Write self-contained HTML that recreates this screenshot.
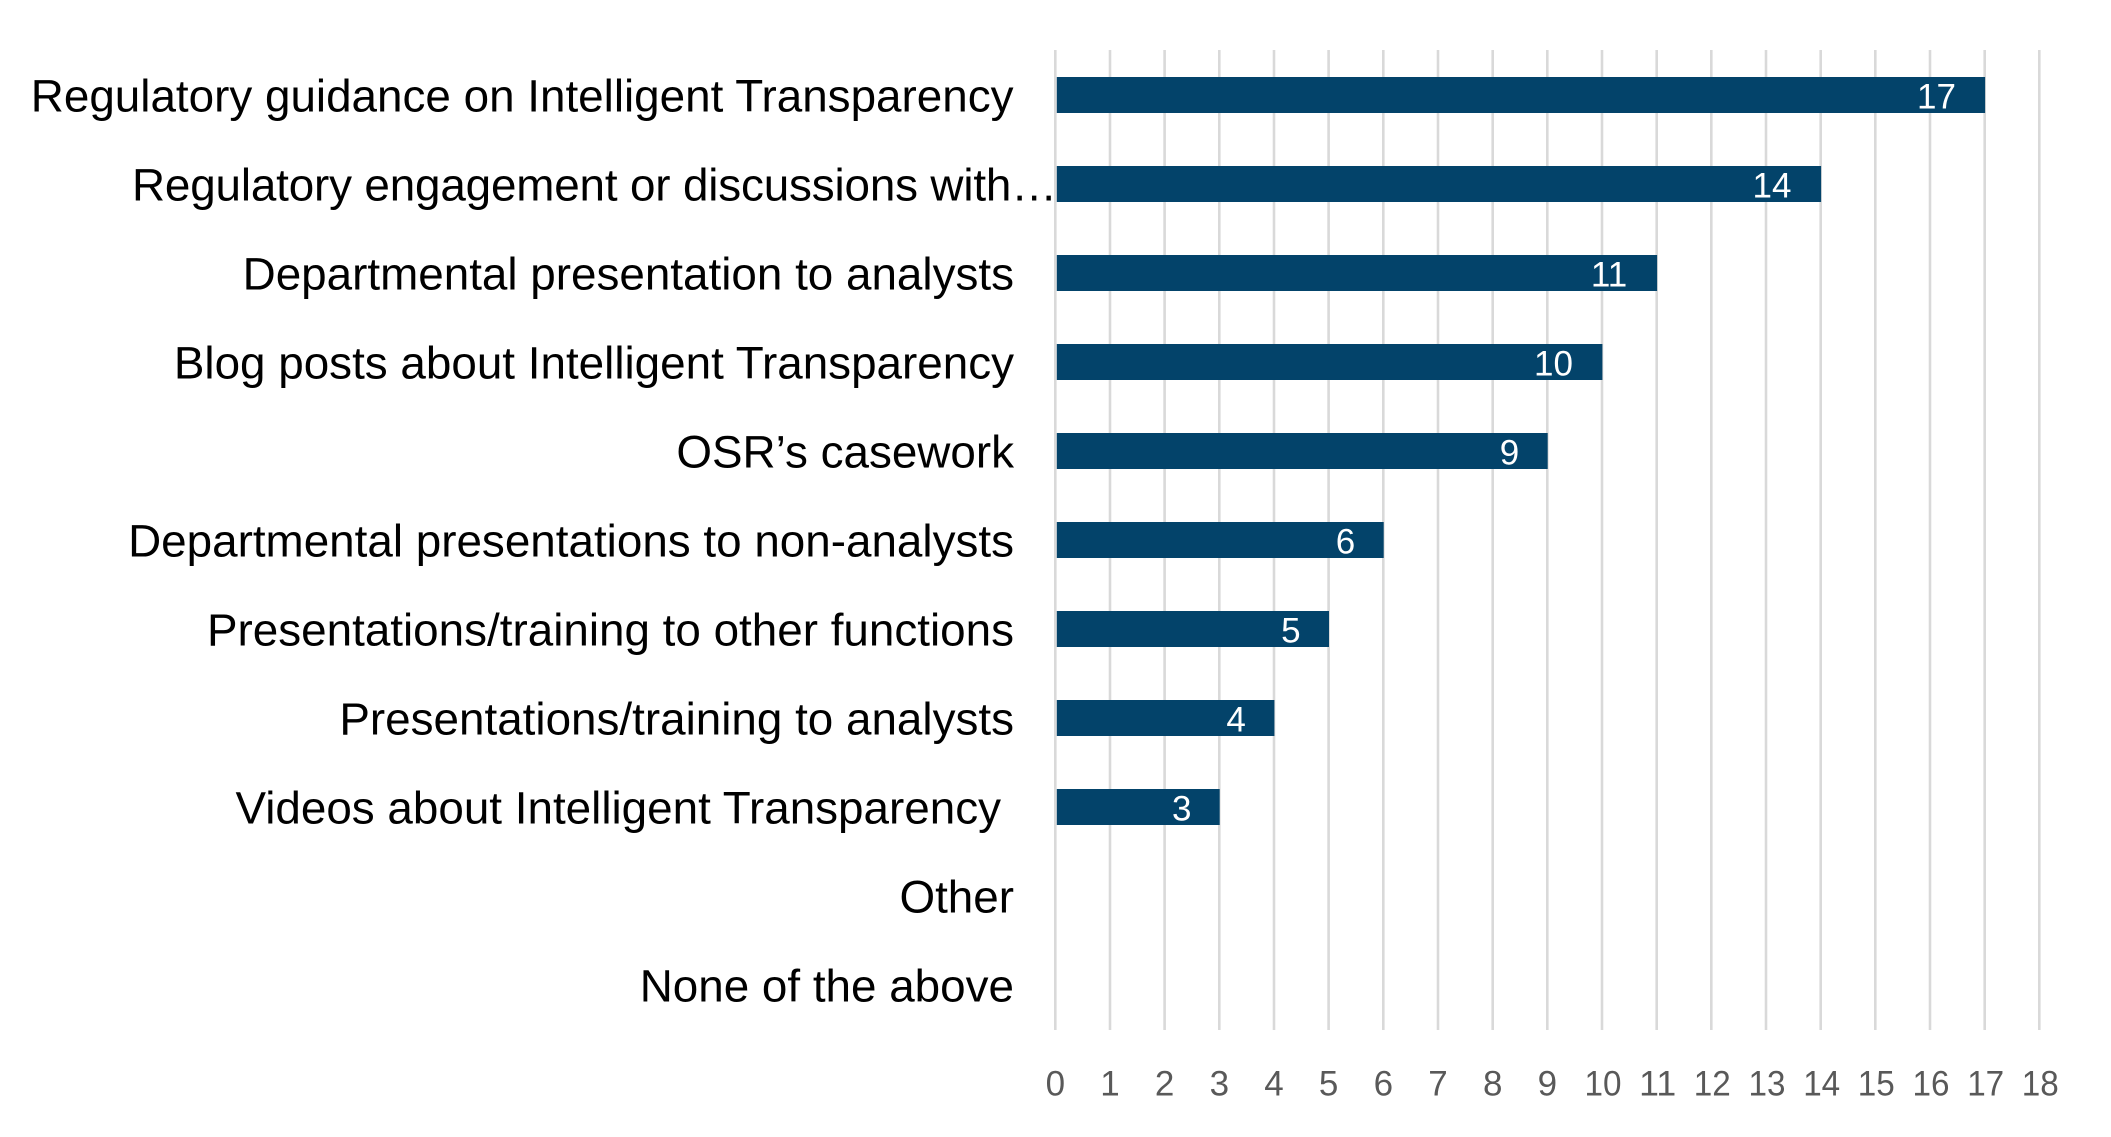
<!DOCTYPE html>
<html>
<head>
<meta charset="utf-8">
<style>
  html, body { margin: 0; padding: 0; background: #ffffff; }
  svg { display: block; }
</style>
</head>
<body>
<svg width="2111" height="1137" viewBox="0 0 2111 1137" xmlns="http://www.w3.org/2000/svg">
  <rect x="0" y="0" width="2111" height="1137" fill="#ffffff"/>
  <!-- gridlines -->
  <g stroke="#d9d9d9" stroke-width="2.6">
    <line x1="1055.3" y1="50" x2="1055.3" y2="1030"/>
    <line x1="1110.0" y1="50" x2="1110.0" y2="1030"/>
    <line x1="1164.6" y1="50" x2="1164.6" y2="1030"/>
    <line x1="1219.3" y1="50" x2="1219.3" y2="1030"/>
    <line x1="1274.0" y1="50" x2="1274.0" y2="1030"/>
    <line x1="1328.6" y1="50" x2="1328.6" y2="1030"/>
    <line x1="1383.3" y1="50" x2="1383.3" y2="1030"/>
    <line x1="1438.0" y1="50" x2="1438.0" y2="1030"/>
    <line x1="1492.7" y1="50" x2="1492.7" y2="1030"/>
    <line x1="1547.3" y1="50" x2="1547.3" y2="1030"/>
    <line x1="1602.0" y1="50" x2="1602.0" y2="1030"/>
    <line x1="1656.7" y1="50" x2="1656.7" y2="1030"/>
    <line x1="1711.3" y1="50" x2="1711.3" y2="1030"/>
    <line x1="1766.0" y1="50" x2="1766.0" y2="1030"/>
    <line x1="1820.7" y1="50" x2="1820.7" y2="1030"/>
    <line x1="1875.3" y1="50" x2="1875.3" y2="1030"/>
    <line x1="1930.0" y1="50" x2="1930.0" y2="1030"/>
    <line x1="1984.7" y1="50" x2="1984.7" y2="1030"/>
    <line x1="2039.3" y1="50" x2="2039.3" y2="1030"/>
  </g>

  <!-- bars -->
  <g fill="#03436a">
    <rect x="1056.8" y="77"  width="928.3" height="36"/>
    <rect x="1056.8" y="166" width="764.3" height="36"/>
    <rect x="1056.8" y="255" width="600.3" height="36"/>
    <rect x="1056.8" y="344" width="545.6" height="36"/>
    <rect x="1056.8" y="433" width="490.9" height="36"/>
    <rect x="1056.8" y="522" width="326.9" height="36"/>
    <rect x="1056.8" y="611" width="272.2" height="36"/>
    <rect x="1056.8" y="700" width="217.6" height="36"/>
    <rect x="1056.8" y="789" width="162.9" height="36"/>
  </g>

  <!-- data labels -->
  <g font-family="'Liberation Sans', Arial, sans-serif" font-size="35" fill="#ffffff" text-anchor="middle">
    <text x="1936.5" y="108.5">17</text>
    <text x="1772" y="197.5">14</text>
    <text x="1609" y="286.5">11</text>
    <text x="1553.5" y="375.5">10</text>
    <text x="1509.5" y="464.5">9</text>
    <text x="1345.5" y="553.5">6</text>
    <text x="1290.8" y="642.5">5</text>
    <text x="1236.1" y="731.5">4</text>
    <text x="1181.7" y="820.5">3</text>
  </g>

  <!-- category labels -->
  <g font-family="'Liberation Sans', Arial, sans-serif" font-size="45.8" fill="#000000" text-anchor="end">
    <text x="1013.5" y="111.5">Regulatory guidance on Intelligent Transparency</text>
    <text x="1057" y="200.5" textLength="925" lengthAdjust="spacing">Regulatory engagement or discussions with…</text>
    <text x="1014" y="289.5">Departmental presentation to analysts</text>
    <text x="1014" y="378.5">Blog posts about Intelligent Transparency</text>
    <text x="1014" y="467.5">OSR’s casework</text>
    <text x="1014" y="556.5">Departmental presentations to non-analysts</text>
    <text x="1014" y="645.5">Presentations/training to other functions</text>
    <text x="1014" y="734.5">Presentations/training to analysts</text>
    <text x="1001" y="823.5">Videos about Intelligent Transparency</text>
    <text x="1014" y="912.5">Other</text>
    <text x="1014" y="1001.5">None of the above</text>
  </g>

  <!-- axis tick labels -->
  <g font-family="'Liberation Sans', Arial, sans-serif" font-size="35" fill="#595959" text-anchor="middle">
    <text x="1055.3" y="1095.5">0</text>
    <text x="1110.0" y="1095.5">1</text>
    <text x="1164.6" y="1095.5">2</text>
    <text x="1219.3" y="1095.5">3</text>
    <text x="1274.0" y="1095.5">4</text>
    <text x="1328.6" y="1095.5">5</text>
    <text x="1383.3" y="1095.5">6</text>
    <text x="1438.0" y="1095.5">7</text>
    <text x="1492.7" y="1095.5">8</text>
    <text x="1547.3" y="1095.5">9</text>
    <text x="1603.0" y="1095.5" textLength="37" lengthAdjust="spacingAndGlyphs">10</text>
    <text x="1657.7" y="1095.5" textLength="37" lengthAdjust="spacingAndGlyphs">11</text>
    <text x="1712.3" y="1095.5" textLength="37" lengthAdjust="spacingAndGlyphs">12</text>
    <text x="1767.0" y="1095.5" textLength="37" lengthAdjust="spacingAndGlyphs">13</text>
    <text x="1821.7" y="1095.5" textLength="37" lengthAdjust="spacingAndGlyphs">14</text>
    <text x="1876.3" y="1095.5" textLength="37" lengthAdjust="spacingAndGlyphs">15</text>
    <text x="1931.0" y="1095.5" textLength="37" lengthAdjust="spacingAndGlyphs">16</text>
    <text x="1985.7" y="1095.5" textLength="37" lengthAdjust="spacingAndGlyphs">17</text>
    <text x="2040.3" y="1095.5" textLength="37" lengthAdjust="spacingAndGlyphs">18</text>
  </g>
</svg>
</body>
</html>
